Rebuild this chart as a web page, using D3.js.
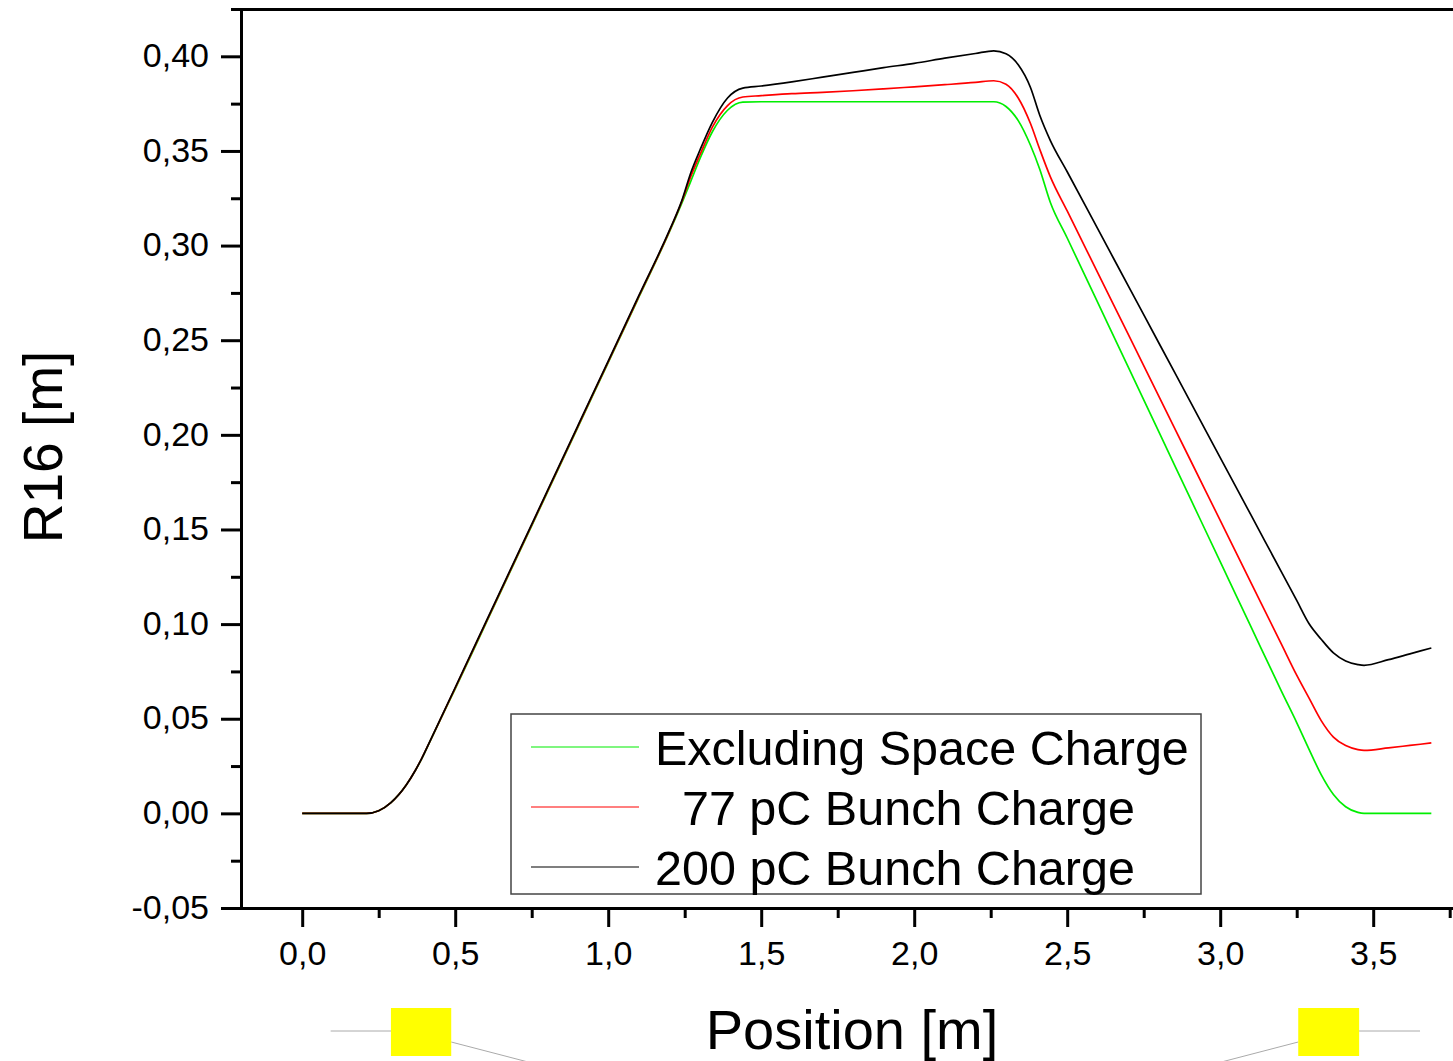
<!DOCTYPE html>
<html>
<head>
<meta charset="utf-8">
<script src="https://cdn.jsdelivr.net/npm/d3@7"></script>
<style>
  html, body { margin: 0; padding: 0; background: #fff; overflow: hidden; }
  svg { display: block; font-family: "Liberation Sans", Arial, sans-serif; }
</style>
</head>
<body>
<svg id="chart" width="1453" height="1061"></svg>
<script>
// ---------- data ----------
const positions = [0, 0.1, 0.21, 0.25, 0.29, 0.34, 0.37, 0.39, 0.42, 0.45, 0.5,
  0.6, 0.7, 0.8, 0.9, 1.0, 1.1, 1.2, 1.24, 1.27, 1.30,
  1.34, 1.39, 1.44, 1.5, 1.6, 1.7, 1.8, 1.9, 2.0, 2.1,
  2.2, 2.26, 2.30, 2.34, 2.38, 2.41, 2.445, 2.5, 2.6, 2.7,
  2.8, 2.9, 3.0, 3.1, 3.2, 3.25, 3.29, 3.33, 3.37, 3.41,
  3.45, 3.47, 3.55, 3.62, 3.69];

const excludingSpaceCharge = [0, 0, 0, 0.0014, 0.0057, 0.0150, 0.0227, 0.0287, 0.0388, 0.0490, 0.0658,
  0.1002, 0.1347, 0.1692, 0.2037, 0.2382, 0.2727, 0.3072, 0.3222, 0.334, 0.346,
  0.360, 0.3715, 0.3758, 0.376, 0.376, 0.376, 0.376, 0.376, 0.376, 0.376,
  0.376, 0.376, 0.3735, 0.366, 0.353, 0.3405, 0.3228, 0.3040, 0.2698, 0.2356,
  0.2014, 0.1672, 0.133, 0.0988, 0.0646, 0.048, 0.034, 0.0205, 0.010, 0.0035,
  0.0005, 0, 0, 0, 0];

const bunch77pC = [0, 0, 0, 0.0014, 0.0057, 0.0150, 0.0228, 0.0288, 0.0389, 0.0491, 0.0662,
  0.1006, 0.1351, 0.1696, 0.2041, 0.2386, 0.2731, 0.3076, 0.323, 0.3365, 0.348,
  0.3625, 0.374, 0.3785, 0.3792, 0.3803, 0.381, 0.3818, 0.3828, 0.3839, 0.385,
  0.3862, 0.3871, 0.3853, 0.378, 0.3645, 0.351, 0.3363, 0.3183, 0.2856, 0.2529,
  0.2202, 0.1875, 0.1548, 0.1221, 0.0894, 0.073, 0.061, 0.049, 0.0403, 0.0358,
  0.0337, 0.0333, 0.0346, 0.0359, 0.0372];

const bunch200pC = [0, 0, 0, 0.0014, 0.0057, 0.0150, 0.0228, 0.0288, 0.0390, 0.0493, 0.0665,
  0.101, 0.1355, 0.170, 0.2045, 0.239, 0.2735, 0.308, 0.3235, 0.3385, 0.3505,
  0.365, 0.378, 0.3832, 0.3843, 0.3865, 0.389, 0.3915, 0.394, 0.3963, 0.399,
  0.4015, 0.4029, 0.4013, 0.3955, 0.3835, 0.369, 0.3555, 0.3390, 0.3088, 0.2786,
  0.2484, 0.2182, 0.1880, 0.1578, 0.1276, 0.1125, 0.1003, 0.092, 0.0848, 0.0805,
  0.0786, 0.0782, 0.0812, 0.0843, 0.0874];

const seriesNames = ["Excluding Space Charge", "  77 pC Bunch Charge", "200 pC Bunch Charge"];
const seriesColors = ["#00ee00", "#ff0000", "#000000"];

const xMajorTicks = [0, 0.5, 1.0, 1.5, 2.0, 2.5, 3.0, 3.5];
const xMinorTicks = [0.25, 0.75, 1.25, 1.75, 2.25, 2.75, 3.25, 3.75];
const yMajorTicks = [-0.05, 0, 0.05, 0.10, 0.15, 0.20, 0.25, 0.30, 0.35, 0.40];
const yMinorTicks = [-0.025, 0.025, 0.075, 0.125, 0.175, 0.225, 0.275, 0.325, 0.375, 0.425];

// beamline magnets (start, end in metres)
const magnetStart = [0.29, 3.255];
const magnetEnd = [0.487, 3.454];

// ---------- chart ----------
const svg = d3.select("#chart");
const x = d3.scaleLinear().domain([-0.2, 3.8]).range([241, 1465]);
const y = d3.scaleLinear().domain([-0.05, 0.425]).range([908, 9]);
const fmtX = d => d3.format(".1f")(d).replace(".", ",");
const fmtY = d => d3.format(".2f")(d).replace(".", ",").replace("−", "-");

const axisStyle = g => {
  g.selectAll("path.domain").attr("stroke", "#000").attr("stroke-width", 3).attr("stroke-linecap", "square");
  g.selectAll(".tick line").attr("stroke", "#000").attr("stroke-width", 3);
  g.selectAll(".tick text").attr("fill", "#000").attr("font-size", 34)
    .attr("font-family", '"Liberation Sans", Arial, sans-serif');
};

// top frame line
svg.append("g").attr("transform", "translate(0,9)")
  .call(d3.axisTop(x).tickValues([]).tickSizeOuter(0)).call(axisStyle);

// minor ticks
svg.append("g").attr("transform", "translate(0,908)")
  .call(d3.axisBottom(x).tickValues(xMinorTicks).tickSize(10).tickSizeOuter(0).tickFormat(""))
  .call(axisStyle);
svg.append("g").attr("transform", "translate(241,0)")
  .call(d3.axisLeft(y).tickValues(yMinorTicks).tickSize(10).tickSizeOuter(0).tickFormat(""))
  .call(axisStyle);

// major ticks
const gx = svg.append("g").attr("transform", "translate(0,908)")
  .call(d3.axisBottom(x).tickValues(xMajorTicks).tickSize(19).tickSizeOuter(0).tickPadding(14).tickFormat(fmtX))
  .call(axisStyle);
gx.selectAll(".tick text").attr("dy", "0.71em");
const gy = svg.append("g").attr("transform", "translate(241,0)")
  .call(d3.axisLeft(y).tickValues(yMajorTicks).tickSize(20).tickSizeOuter(0).tickPadding(12).tickFormat(fmtY))
  .call(axisStyle);
gy.selectAll(".tick text").attr("dy", "0.30em");

// axis titles
svg.append("text")
  .attr("transform", "translate(62,447) rotate(-90)")
  .attr("text-anchor", "middle").attr("font-size", 55).attr("fill", "#000")
  .text("R16 [m]");
svg.append("text")
  .attr("x", 852).attr("y", 1049)
  .attr("text-anchor", "middle").attr("font-size", 56).attr("fill", "#000")
  .text("Position [m]");

// lines
const seriesData = [excludingSpaceCharge, bunch77pC, bunch200pC];
const line = d3.line().x((d, i) => x(positions[i])).y(d => y(d)).curve(d3.curveMonotoneX);
svg.append("g").selectAll("path").data(seriesData).join("path")
  .attr("d", d => line(d))
  .attr("fill", "none")
  .attr("stroke", (d, i) => seriesColors[i])
  .attr("stroke-width", 1.7)
  .attr("stroke-linejoin", "round");

// legend
const legend = svg.append("g");
legend.append("rect").attr("x", 511).attr("y", 714).attr("width", 690).attr("height", 180)
  .attr("fill", "#fff").attr("stroke", "#444").attr("stroke-width", 1.5);
seriesNames.forEach((name, i) => {
  const ly = 747 + i * 60;
  legend.append("line").attr("x1", 531).attr("x2", 639).attr("y1", ly).attr("y2", ly)
    .attr("stroke", seriesColors[i]).attr("stroke-width", 1.2);
  legend.append("text").attr("x", 655).attr("y", ly + 18)
    .attr("font-size", 48.5).attr("fill", "#000")
    .attr("xml:space", "preserve").style("white-space", "pre")
    .text(name);
});

// beamline sketch below the axis
const beam = svg.append("g");
magnetStart.forEach((s, i) => {
  const x0 = x(s), x1 = x(magnetEnd[i]);
  const w = x1 - x0;
  if (i === 0) {
    beam.append("line").attr("x1", x0 - w).attr("x2", x0).attr("y1", 1031).attr("y2", 1031);
    beam.append("line").attr("x1", x1).attr("y1", 1042).attr("x2", x1 + 100).attr("y2", 1042 + 100 * 19 / 73);
  } else {
    beam.append("line").attr("x1", x1).attr("x2", x1 + w).attr("y1", 1031).attr("y2", 1031);
    beam.append("line").attr("x1", x0).attr("y1", 1042).attr("x2", x0 - 100).attr("y2", 1042 + 100 * 19 / 73);
  }
  beam.append("rect").attr("x", x0).attr("y", 1008).attr("width", w).attr("height", 48)
    .attr("fill", "#ffff00");
});
beam.selectAll("line").attr("stroke", "#aaaaaa").attr("stroke-width", 1);
</script>
</body>
</html>
